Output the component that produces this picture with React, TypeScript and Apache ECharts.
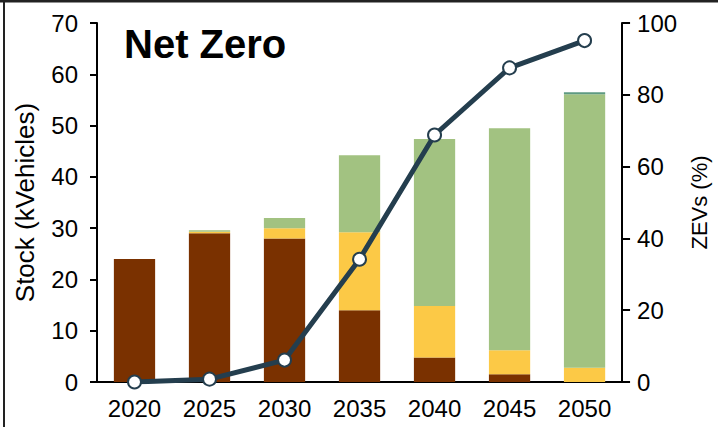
import React, { useEffect, useRef } from "react";
import * as echarts from "echarts";

const years = ["2020", "2025", "2030", "2035", "2040", "2045", "2050"];
const iceStock = [24.0, 29.0, 28.0, 14.0, 4.8, 1.5, 0];
const hybridStock = [0, 0.3, 2.0, 15.2, 10.0, 4.7, 2.8];
const bevStock = [0, 0.3, 2.0, 15.0, 32.6, 43.3, 53.3];
const fcevStock = [0, 0, 0, 0, 0, 0, 0.4];
const zevShare = [0, 0.8, 6.1, 34.2, 68.8, 87.5, 95.1];

const FONT = "'Liberation Sans', Arial, sans-serif";

export default function App() {
  const ref = useRef<HTMLDivElement>(null);
  useEffect(() => {
    if (!ref.current) return;
    const chart = echarts.init(ref.current, null, { renderer: "svg" });
    const barBase = {
      type: "bar",
      stack: "stock",
      barCategoryGap: "45%",
      yAxisIndex: 0,
    };
    chart.setOption({
      animation: false,
      backgroundColor: "#ffffff",
      textStyle: { fontFamily: FONT },
      grid: { left: 97, right: 91, top: 23, bottom: 45 },
      xAxis: {
        type: "category",
        data: years,
        axisLine: { lineStyle: { color: "#000", width: 2 } },
        axisTick: { show: false },
        axisLabel: { color: "#000", fontSize: 24, fontFamily: FONT, margin: 14 },
      },
      yAxis: [
        {
          type: "value",
          min: 0,
          max: 70,
          interval: 10,
          name: "Stock (kVehicles)",
          nameLocation: "middle",
          nameGap: 59,
          nameTextStyle: { color: "#000", fontSize: 26, fontFamily: FONT },
          axisLine: { show: true, lineStyle: { color: "#000", width: 2 } },
          axisTick: { show: true, length: 7, lineStyle: { color: "#000", width: 2 } },
          axisLabel: { color: "#000", fontSize: 24, fontFamily: FONT, margin: 19 },
          splitLine: { show: false },
        },
        {
          type: "value",
          min: 0,
          max: 100,
          interval: 20,
          position: "right",
          name: "ZEVs (%)",
          nameLocation: "middle",
          nameGap: 53,
          nameRotate: 90,
          nameTextStyle: { color: "#000", fontSize: 22, fontFamily: FONT },
          axisLine: { show: true, lineStyle: { color: "#000", width: 2 } },
          axisTick: { show: true, length: 8, lineStyle: { color: "#000", width: 2 } },
          axisLabel: { color: "#000", fontSize: 24, fontFamily: FONT, margin: 15 },
          splitLine: { show: false },
        },
      ],
      series: [
        { ...barBase, name: "ICE", data: iceStock, itemStyle: { color: "#7A3100" } },
        { ...barBase, name: "Hybrid", data: hybridStock, itemStyle: { color: "#FCC946" } },
        { ...barBase, name: "BEV", data: bevStock, itemStyle: { color: "#A2C281" } },
        { ...barBase, name: "FCEV", data: fcevStock, itemStyle: { color: "#5E9A82" } },
        {
          type: "line",
          name: "ZEVs",
          yAxisIndex: 1,
          data: zevShare,
          symbol: "circle",
          symbolSize: 13,
          lineStyle: { color: "#243E4E", width: 5 },
          itemStyle: { color: "#ffffff", borderColor: "#243E4E", borderWidth: 2 },
          z: 5,
        },
      ],
      graphic: [
        {
          type: "text",
          left: 124,
          top: 24,
          style: {
            text: "Net Zero",
            fontSize: 40,
            fontWeight: "bold",
            fontFamily: FONT,
            fill: "#000",
          },
        },
        {
          type: "line",
          shape: { x1: 0, y1: 1, x2: 718, y2: 1 },
          style: { stroke: "#222", lineWidth: 3 },
        },
        {
          type: "line",
          shape: { x1: 4, y1: 0, x2: 4, y2: 427 },
          style: { stroke: "#222", lineWidth: 2 },
        },
      ],
    });
    return () => chart.dispose();
  }, []);
  return <div ref={ref} style={{ width: 718, height: 427, position: "fixed", left: 0, top: 0 }} />;
}
